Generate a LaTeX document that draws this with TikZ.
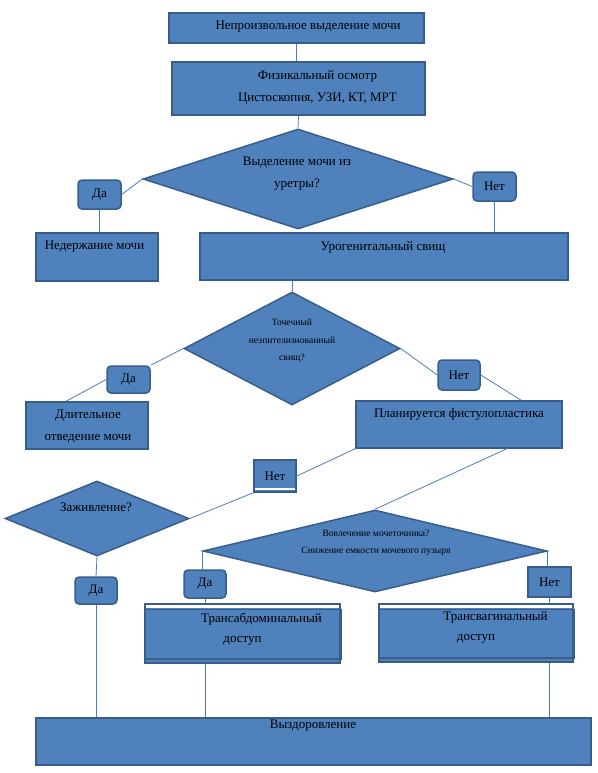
\documentclass[tikz,border=0pt]{standalone}
\usepackage{fontspec}
\setmainfont{Liberation Serif}
\usepackage{tikz}
\usetikzlibrary{calc,shapes.geometric}
\definecolor{boxfill}{RGB}{79,129,189}
\definecolor{boxline}{RGB}{56,93,138}
\definecolor{linkblue}{RGB}{74,126,187}
\tikzset{
	box/.style={draw=boxline, fill=boxfill, line width=1.5pt, inner sep=0pt},
	tag/.style={box, rounded corners=4pt, minimum width=43pt, minimum height=29pt, font=\fontsize{13}{15}\selectfont},
	flag/.style={box, minimum width=43pt, minimum height=30pt, font=\fontsize{13}{15}\selectfont},
	choice/.style={diamond, draw=boxline, fill=boxfill, line width=1.5pt, inner sep=0pt},
	txt/.style={inner sep=0pt, align=center, font=\fontsize{13}{22}\selectfont},
	small/.style={inner sep=0pt, align=center, font=\fontsize{9.6}{17.5}\selectfont},
	link/.style={draw=linkblue, line width=0.8pt}
}

\begin{document}
\begin{tikzpicture}[x=1pt, y=-1pt]
			%%%%% START %%%%%
			\useasboundingbox (0, 0) rectangle (597, 773);
			
			\node[box, minimum width=255pt, minimum height=30pt] (b1) at (296.5, 28) {};
			\node[txt] (b1t) at (308, 27) {Непроизвольное выделение мочи};
			
			\node[box, minimum width=253pt, minimum height=53pt] (b2) at (298.5, 88.5) {};
			\node[txt] (b2t) at (317.5, 87) {Физикальный осмотр\\Цистоскопия, УЗИ, КТ, МРТ};
			
			\node[choice, minimum width=310pt, minimum height=100pt] (d1) at (298, 179) {};
			\node[txt] (d1t) at (297, 174) {Выделение мочи из\\уретры?};
			
			\node[tag] (da1) at (99.5, 194.5) {Да};
			\node[tag] (net1) at (494.5, 186.5) {Нет};
			
			\node[box, minimum width=122pt, minimum height=48pt] (ned) at (97, 257) {};
			\node[txt] (nedt) at (94.5, 247) {Недержание мочи};
			\node[box, minimum width=368pt, minimum height=47pt] (uro) at (384, 256.5) {};
			\node[txt] (urot) at (383, 247) {Урогенитальный свищ};
			
			\node[choice, minimum width=216pt, minimum height=113pt] (d2) at (292, 348.5) {};
			\node[small] (d2t) at (292, 341) {Точечный\\неэпителизиованный\\свищ?};
			
			\node[tag, minimum height=27pt] (da2) at (128.5, 379.5) {Да};
			\node[tag, minimum width=42pt, minimum height=30pt] (net2) at (459, 375) {Нет};
			
			\node[box, minimum width=122pt, minimum height=47pt] (dlit) at (87, 425.5) {};
			\node[txt] (dlitt) at (88, 426) {Длительное\\отведение мочи};
			\node[box, minimum width=206pt, minimum height=47pt] (plan) at (459, 424.5) {};
			\node[txt] (plant) at (459, 414) {Планируется фистулопластика};
			
			\node[flag, minimum width=42pt, minimum height=32pt] (net3) at (275, 476) {Нет};
			\draw[white, line width=1.5pt] ([xshift=1.5pt, yshift=4pt]net3.south west) -- ([xshift=-1.5pt, yshift=4pt]net3.south east);
			
			\node[choice, minimum width=184pt, minimum height=75pt] (d3) at (97, 518.5) {};
			\node[txt] (d3t) at (96, 507) {Заживление?};
			
			\node[choice, minimum width=344pt, minimum height=82pt] (d4) at (375, 551) {};
			\node[small] (d4t) at (376, 543) {Вовлечение мочеточника?\\Снижение емкости мочевого пузыря};
			
			\node[tag, minimum width=42pt, minimum height=27pt] (da3) at (96, 590.5) {Да};
			\node[tag, minimum width=42pt, minimum height=28pt] (da4) at (205, 584) {Да};
			\node[flag] (net4) at (549.5, 582) {Нет};
			
			% double frames
			\node[box, minimum width=195pt, minimum height=59pt] (trabd) at (242.5, 633.5) {};
			\draw[white, line width=2.5pt] ([xshift=1.5pt, yshift=-3pt]trabd.north west) -- ([xshift=-1.5pt, yshift=-3pt]trabd.north east);
			\draw[boxline, line width=1.5pt] ([yshift=-6pt]trabd.north west) rectangle ([yshift=5pt]trabd.south east);
			\node[txt] (trabdt1) at (261.5, 619) {Трансабдоминальный};
			\node[txt] (trabdt2) at (242.5, 641) {доступ};
			
			\node[box, minimum width=194pt, minimum height=58pt] (trvag) at (476, 633) {};
			\draw[white, line width=2.5pt] ([xshift=1.5pt, yshift=-3pt]trvag.north west) -- ([xshift=-1.5pt, yshift=-3pt]trvag.north east);
			\draw[boxline, line width=1.5pt] ([yshift=-6pt]trvag.north west) rectangle ([yshift=5pt]trvag.south east);
			\node[txt] (trvagt1) at (495.5, 617) {Трансвагинальный};
			\node[txt] (trvagt2) at (476, 639) {доступ};
			
			\node[box, minimum width=555pt, minimum height=47pt] (vyz) at (313.5, 741.5) {};
			\node[txt] (vyzt) at (313, 726) {Выздоровление};
			
			% connectors
			\draw[link] (b1.south) -- (b1.south |- b2.north);
			\draw[link] (b2.south) -- (d1.north);
			\draw[link] (d1.west) -- (da1.east);
			\draw[link] (da1.south) -- (da1.south |- ned.north);
			\draw[link] (d1.east) -- (net1.west);
			\draw[link] (net1.south) -- (net1.south |- uro.north);
			
			\draw[link] (uro.south -| d2.north) -- (d2.north);
			\draw[link] (d2.west) -- (da2.north east);
			\draw[link] (da2.west) -- ($(dlit.north west)!.33!(dlit.north east)$);
			\draw[link] (d2.east) -- (net2.west);
			\draw[link] (net2.east) -- ($(plan.north west)!.8!(plan.north east)$);
			
			\draw[link] (plan.south west) -- (net3.east);
			\draw[link] (net3.south west) -- (d3.east);
			\draw[link] ($(plan.south west)!.73!(plan.south east)$) -- (d4.north);
			
			\draw[link] (d3.south) -- (da3.north);
			\draw[link] (da3.south) -- (da3.south |- vyz.north);
			\draw[link] (d4.west) -- (d4.west |- da4.north);
			\draw[link] (da4.south) -- (da4.south |- trabd.north);
			\draw[link] (da4.south |- trabd.south) -- (da4.south |- vyz.north);
			\draw[link] (d4.east) -- (d4.east |- net4.north);
			\draw[link] (net4.south) -- (net4.south |- trvag.north);
			\draw[link] (net4.south |- trvag.south) -- (net4.south |- vyz.north);
			
			%%%%% END %%%%%
\end{tikzpicture}
\end{document}
